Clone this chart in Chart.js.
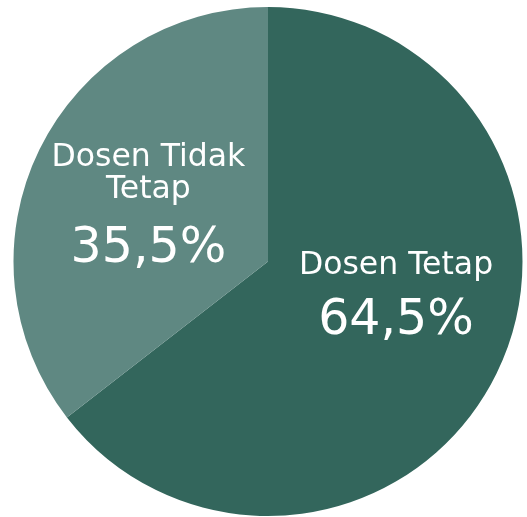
<!DOCTYPE html>
<html>
<head>
<meta charset="utf-8">
<script src="https://cdn.jsdelivr.net/npm/chart.js@4/dist/chart.umd.min.js"></script>
<style>
  html, body { margin: 0; padding: 0; background: #fff; }
  #wrap { width: 527px; height: 517px; }
</style>
</head>
<body>
<div id="wrap"><canvas id="pie"></canvas></div>
<script>
// data
var labels = ["Dosen Tetap", "Dosen Tidak Tetap"];
var labelLines = [["Dosen Tetap"], ["Dosen Tidak", "Tetap"]];
var values = [64.5, 35.5];
var colors = ["#33665c", "#5f8882"];

// posisi label relatif terhadap pusat (dalam satuan radius), jarak ke persen
var labelOffsets = [[0.503, 0.05], [-0.47, -0.375]];
var pctGap = [60, 64];

var fontFamily = "'DejaVu Sans', sans-serif";

var pieLabels = {
  id: "pieLabels",
  afterDatasetsDraw: function (chart) {
    var ctx = chart.ctx;
    var meta = chart.getDatasetMeta(0);
    ctx.save();
    ctx.fillStyle = "#ffffff";
    ctx.textAlign = "center";
    ctx.textBaseline = "alphabetic";
    meta.data.forEach(function (arc, i) {
      var r = arc.outerRadius;
      var cx = arc.x + labelOffsets[i][0] * r;
      var cy = arc.y + labelOffsets[i][1] * r;
      var lines = labelLines[i];
      ctx.font = "31.5px " + fontFamily;
      for (var j = 0; j < lines.length; j++) {
        ctx.fillText(lines[j], cx, cy + j * 32);
      }
      ctx.font = "49px " + fontFamily;
      var pct = values[i].toFixed(1).replace(".", ",") + "%";
      ctx.fillText(pct, cx, cy + (lines.length - 1) * 32 + pctGap[i]);
    });
    ctx.restore();
  }
};

var ctx = document.getElementById("pie").getContext("2d");
var chart = new Chart(ctx, {
  type: "pie",
  data: {
    labels: labels,
    datasets: [
      {
        data: values,
        backgroundColor: colors,
        borderWidth: 0
      }
    ]
  },
  options: {
    responsive: true,
    maintainAspectRatio: false,
    animation: false,
    layout: { padding: { left: 13.5, right: 4.5, top: 7, bottom: 1 } },
    plugins: {
      legend: { display: false },
      tooltip: { enabled: false }
    }
  },
  plugins: [pieLabels]
});
</script>
</body>
</html>
